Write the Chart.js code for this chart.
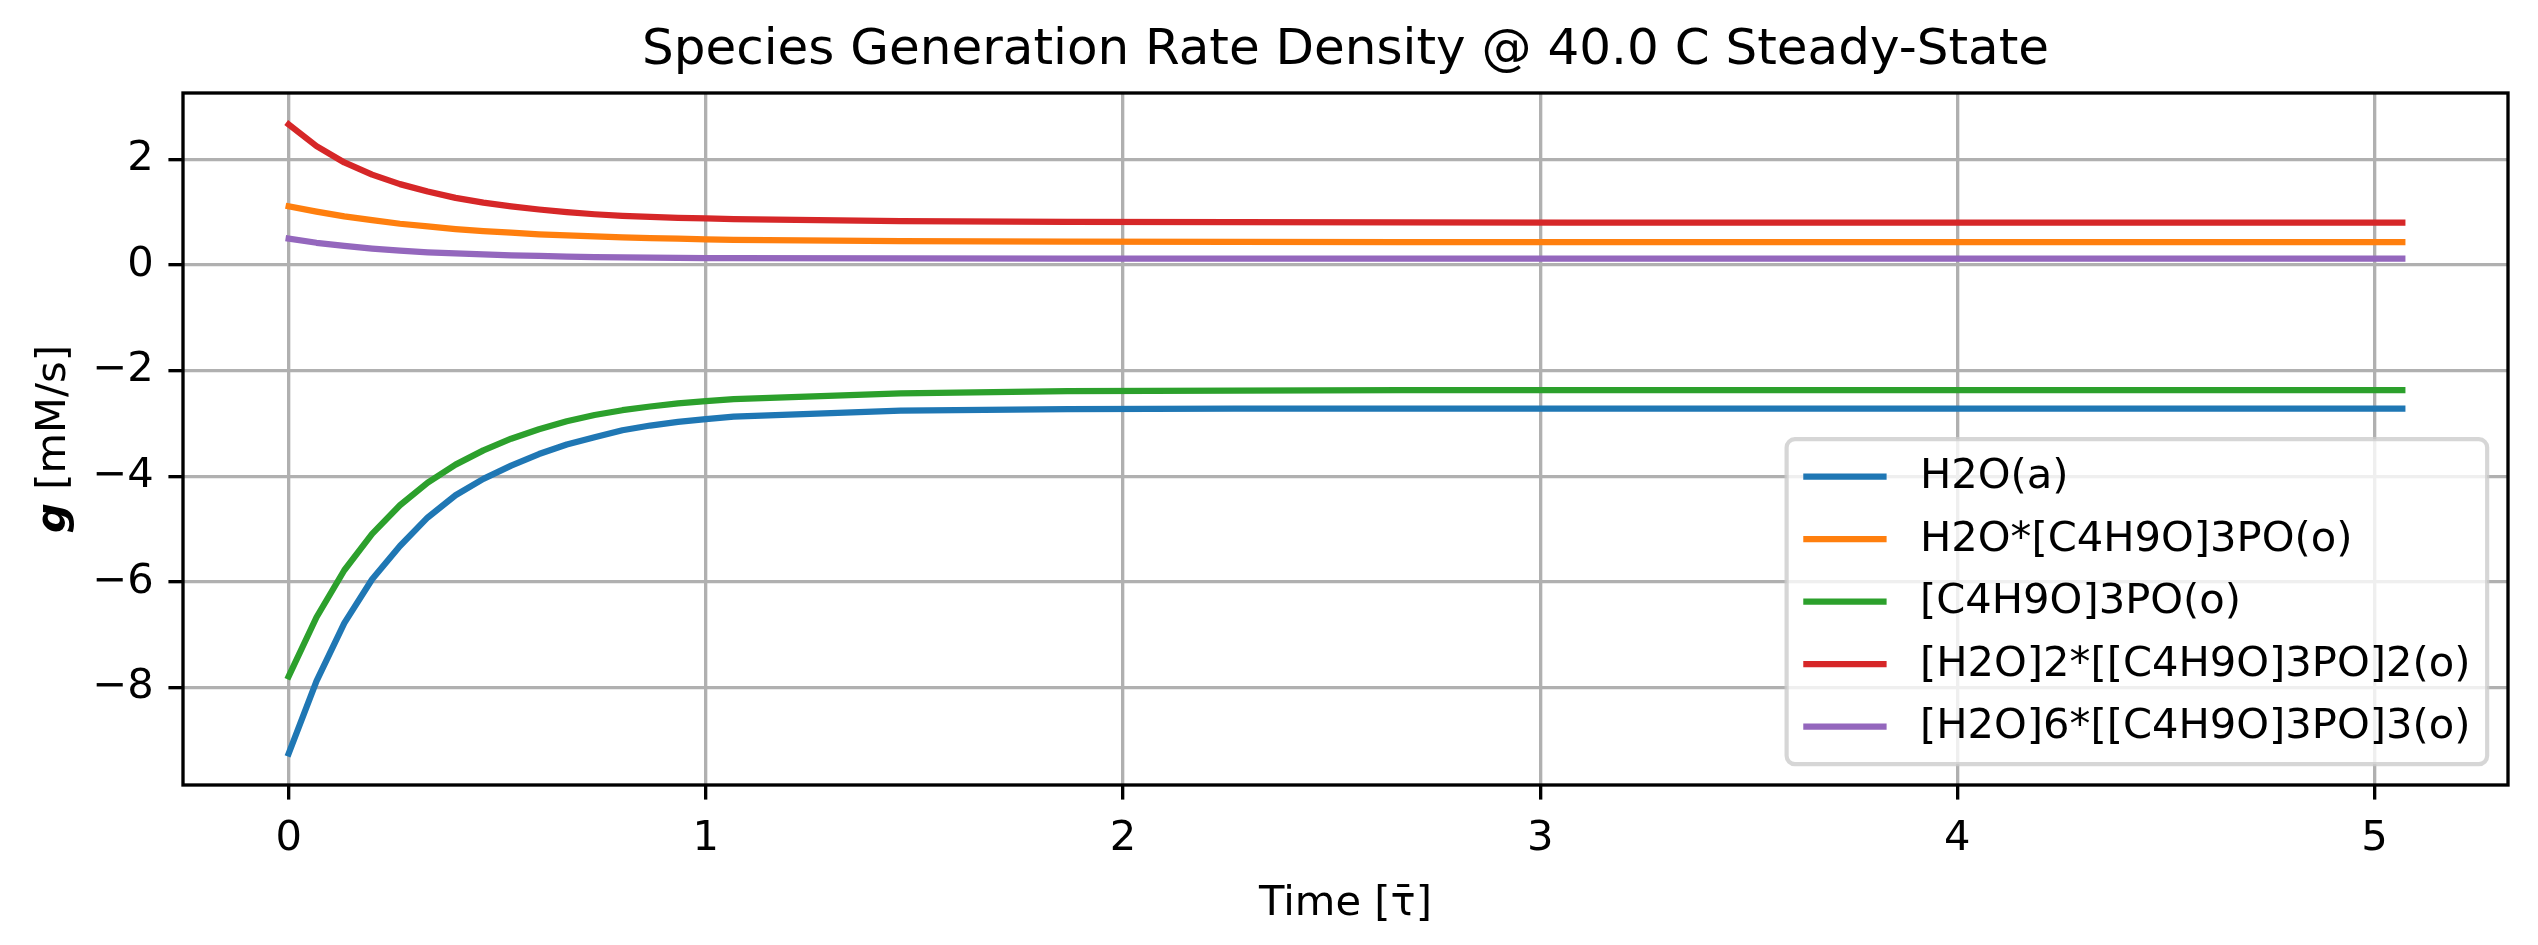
<!DOCTYPE html>
<html>
<head>
<meta charset="utf-8">
<script src="https://cdn.jsdelivr.net/npm/chart.js@4.4.1/dist/chart.umd.min.js"></script>
<style>
    html, body { margin: 0; padding: 0; background: #fff; }
    canvas { display: block; }
</style>
</head>
<body>
<canvas id="GenRate" width="2538" height="945"></canvas>
<script>
// time axis (dimensionless) and the generation rate of each species [mM/s]
const time_points = [0, 0.0667, 0.1333, 0.2, 0.2667, 0.3333, 0.4, 0.4667, 0.5333, 0.6, 0.6667, 0.7333, 0.8,
    0.8667, 0.9333, 1.0, 1.0667, 1.4667, 1.8667, 2.2667, 2.6667, 3.0667, 3.4667, 3.8667, 4.2667, 4.6667, 5.0667];

const species_labels = ['H2O(a)', 'H2O*[C4H9O]3PO(o)', '[C4H9O]3PO(o)', '[H2O]2*[[C4H9O]3PO]2(o)', '[H2O]6*[[C4H9O]3PO]3(o)'];

const g_h2o = [-9.25, -7.88, -6.78, -5.95, -5.32, -4.78, -4.36, -4.05, -3.80, -3.58, -3.40, -3.26, -3.13,
    -3.04, -2.97, -2.92, -2.87, -2.76, -2.73, -2.72, -2.72, -2.72, -2.72, -2.72, -2.72, -2.72, -2.72];
const g_h2o_tbp = [1.11, 1.01, 0.92, 0.85, 0.78, 0.73, 0.68, 0.64, 0.61, 0.58, 0.56, 0.54, 0.52,
    0.51, 0.50, 0.485, 0.475, 0.45, 0.44, 0.435, 0.43, 0.43, 0.43, 0.43, 0.43, 0.43, 0.43];
const g_tbp = [-7.79, -6.67, -5.78, -5.09, -4.55, -4.12, -3.78, -3.51, -3.29, -3.11, -2.96, -2.84, -2.75,
    -2.68, -2.62, -2.58, -2.54, -2.43, -2.39, -2.38, -2.37, -2.37, -2.37, -2.37, -2.37, -2.37, -2.37];
const g_dimer = [2.66, 2.25, 1.94, 1.71, 1.53, 1.39, 1.27, 1.18, 1.11, 1.05, 1.00, 0.96, 0.93,
    0.91, 0.89, 0.88, 0.87, 0.83, 0.815, 0.81, 0.805, 0.80, 0.80, 0.80, 0.80, 0.80, 0.80];
const g_trimer = [0.50, 0.42, 0.36, 0.31, 0.27, 0.24, 0.22, 0.20, 0.18, 0.17, 0.16, 0.15, 0.145,
    0.14, 0.135, 0.13, 0.13, 0.125, 0.12, 0.12, 0.12, 0.12, 0.12, 0.12, 0.12, 0.12, 0.12];

const x_ticks = [0, 1, 2, 3, 4, 5];
const y_ticks = [-8, -6, -4, -2, 0, 2];

const colors = ['#1f77b4', '#ff7f0e', '#2ca02c', '#d62728', '#9467bd'];

const PT = 300 / 72;   // figure was saved at 300 dpi
const FONT = '"DejaVu Sans", "Liberation Sans", sans-serif';

const all_series = [g_h2o, g_h2o_tbp, g_tbp, g_dimer, g_trimer];

// matplotlib style 5% margins
function padded(lo, hi) {
    const m = (hi - lo) * 0.05;
    return [lo - m, hi + m];
}
const [x_min, x_max] = padded(Math.min(...time_points), Math.max(...time_points));
const [y_min, y_max] = padded(Math.min(...all_series.flat()), Math.max(...all_series.flat()));

let dataset = [];
for (let i = 0; i < all_series.length; i++) {
    dataset.push({
        label: species_labels[i],
        data: time_points.map((t, j) => ({x: t, y: all_series[i][j]})),
        borderColor: colors[i],
        backgroundColor: colors[i],
        borderWidth: 1.5 * PT,
        borderCapStyle: 'square',
        borderJoinStyle: 'round',
        pointRadius: 0,
        tension: 0,
        fill: false,
    });
}

function fmt_minus(v) {
    return v < 0 ? '\u2212' + Math.abs(v) : String(v);
}

// spines on all four sides, above the lines
const frame_plugin = {
    id: 'frame',
    afterDatasetsDraw(chart) {
        const {ctx, chartArea} = chart;
        ctx.save();
        ctx.strokeStyle = '#000';
        ctx.lineWidth = 0.8 * PT;
        ctx.strokeRect(chartArea.left, chartArea.top, chartArea.right - chartArea.left, chartArea.bottom - chartArea.top);
        ctx.restore();
    }
};

// y label with bold italic g
const ylabel_plugin = {
    id: 'ylabel',
    afterDraw(chart) {
        const {ctx, chartArea} = chart;
        const bold = 'italic bold ' + (10 * PT) + 'px ' + FONT;
        const norm = (10 * PT) + 'px ' + FONT;
        ctx.save();
        ctx.translate(54, (chartArea.top + chartArea.bottom) / 2);
        ctx.rotate(-Math.PI / 2);
        ctx.textBaseline = 'middle';
        ctx.textAlign = 'left';
        ctx.fillStyle = '#000';
        ctx.font = bold;
        const w1 = ctx.measureText('g').width;
        ctx.font = norm;
        const w2 = ctx.measureText(' [mM/s]').width;
        const x0 = -(w1 + w2) / 2;
        ctx.font = bold;
        ctx.fillText('g', x0, 0);
        ctx.font = norm;
        ctx.fillText(' [mM/s]', x0 + w1, 0);
        ctx.restore();
    }
};

// matplotlib-like legend box in the lower right corner
const legend_plugin = {
    id: 'mplLegend',
    afterDraw(chart) {
        const {ctx, chartArea} = chart;
        const fs = 10 * PT;
        const pad = 0.4 * fs, spacing = 0.5 * fs, handle_len = 2 * fs, handle_pad = 0.8 * fs, ax_pad = 0.5 * fs;
        const sets = chart.data.datasets;
        ctx.save();
        ctx.font = fs + 'px ' + FONT;
        let text_w = 0;
        for (const ds of sets) {
            text_w = Math.max(text_w, ctx.measureText(ds.label).width);
        }
        const box_w = pad + handle_len + handle_pad + text_w + pad;
        const box_h = 2 * pad + sets.length * fs + (sets.length - 1) * spacing;
        const right = chartArea.right - ax_pad;
        const bottom = chartArea.bottom - ax_pad;
        const left = right - box_w;
        const top = bottom - box_h;

        ctx.beginPath();
        ctx.roundRect(left, top, box_w, box_h, 0.2 * fs);
        ctx.fillStyle = 'rgba(255,255,255,0.8)';
        ctx.fill();
        ctx.lineWidth = 1.0 * PT;
        ctx.strokeStyle = 'rgba(204,204,204,0.8)';
        ctx.stroke();

        ctx.textBaseline = 'middle';
        ctx.textAlign = 'left';
        for (let i = 0; i < sets.length; i++) {
            const cy = top + pad + fs / 2 + i * (fs + spacing);
            ctx.beginPath();
            ctx.moveTo(left + pad, cy);
            ctx.lineTo(left + pad + handle_len, cy);
            ctx.strokeStyle = sets[i].borderColor;
            ctx.lineWidth = 1.5 * PT;
            ctx.lineCap = 'butt';
            ctx.stroke();
            ctx.fillStyle = '#000';
            ctx.fillText(sets[i].label, left + pad + handle_len + handle_pad, cy + 1);
        }
        ctx.restore();
    }
};

new Chart(
    document.getElementById('GenRate'),
    {
        type: 'line',
        data: {
            datasets: dataset,
        },
        plugins: [frame_plugin, ylabel_plugin, legend_plugin],
        options: {
            responsive: false,
            animation: false,
            devicePixelRatio: 1,
            layout: {
                padding: {left: 0, right: 30, top: 0, bottom: 0}
            },
            scales: {
                x: {
                    type: 'linear',
                    min: x_min,
                    max: x_max,
                    afterBuildTicks: (scale) => {
                        scale.ticks = x_ticks.map(v => ({value: v}));
                    },
                    afterFit: (scale) => {
                        scale.height = 160;
                    },
                    grid: {
                        display: true,
                        color: '#b0b0b0',
                        lineWidth: 0.8 * PT,
                        drawTicks: true,
                        tickLength: 3.5 * PT,
                        tickColor: '#000',
                        tickWidth: 0.8 * PT,
                    },
                    border: {
                        display: false
                    },
                    ticks: {
                        color: '#000',
                        padding: 3.5 * PT,
                        maxRotation: 0,
                        font: {family: FONT, size: 10 * PT},
                        callback: (value) => fmt_minus(value)
                    },
                    title: {
                        display: true,
                        text: 'Time [\u03c4\u0304]',
                        color: '#000',
                        font: {family: FONT, size: 10 * PT},
                        padding: {top: 0, bottom: 16}
                    }
                },
                y: {
                    type: 'linear',
                    min: y_min,
                    max: y_max,
                    afterBuildTicks: (scale) => {
                        scale.ticks = y_ticks.map(v => ({value: v}));
                    },
                    afterFit: (scale) => {
                        scale.width = 183;
                    },
                    grid: {
                        display: true,
                        color: '#b0b0b0',
                        lineWidth: 0.8 * PT,
                        drawTicks: true,
                        tickLength: 3.5 * PT,
                        tickColor: '#000',
                        tickWidth: 0.8 * PT,
                    },
                    border: {
                        display: false
                    },
                    ticks: {
                        color: '#000',
                        padding: 3.5 * PT,
                        font: {family: FONT, size: 10 * PT},
                        callback: (value) => fmt_minus(value)
                    }
                }
            },
            plugins: {
                legend: {
                    display: false
                },
                tooltip: {
                    enabled: false
                },
                title: {
                    display: true,
                    fullSize: false,
                    text: 'Species Generation Rate Density @ 40.0 C Steady-State',
                    color: '#000',
                    font: {family: FONT, size: 12 * PT, weight: 'normal'},
                    padding: {top: 21, bottom: 12}
                }
            }
        }
    }
);
</script>
</body>
</html>
